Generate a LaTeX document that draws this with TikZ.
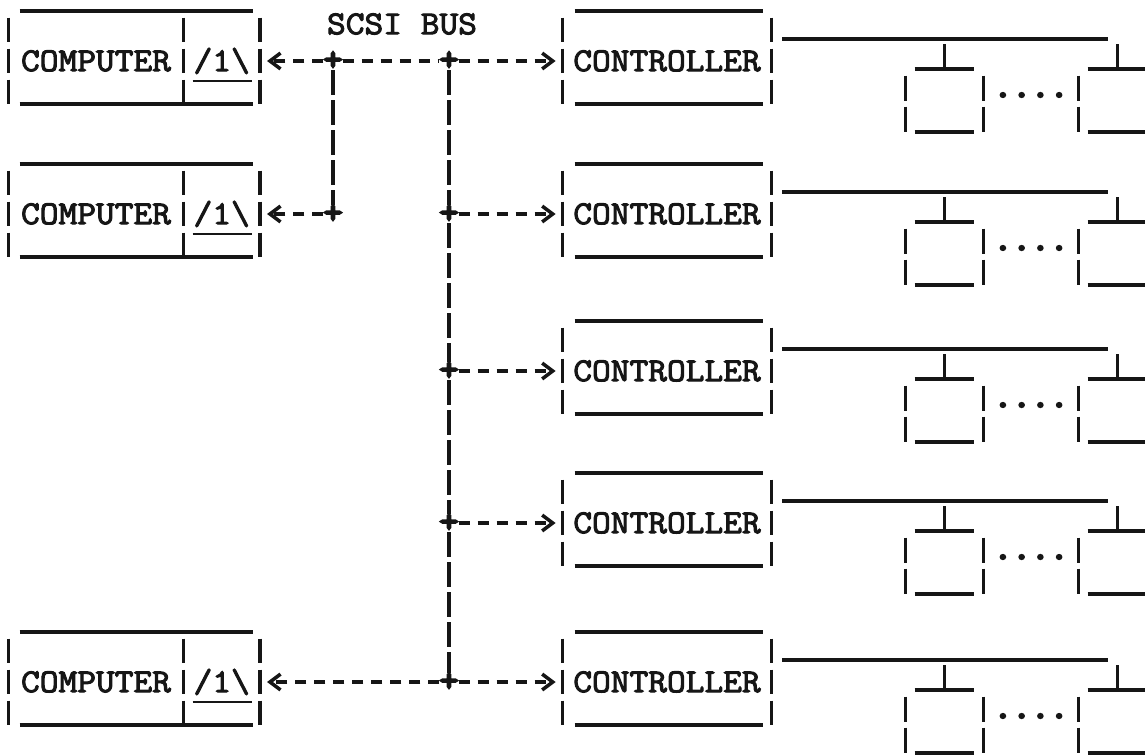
\documentclass[tikz,border=0pt]{standalone}
\usepackage{fontspec}
\usepackage{xcolor}
\usepackage{tikz}
\usetikzlibrary{arrows.meta, positioning, calc}
\newfontfamily\typewriter{Latin Modern Mono}[FakeBold=3, FakeStretch=1.09]
\newfontfamily\heavytype{Latin Modern Mono}[FakeBold=7, FakeStretch=1.09]
\definecolor{ink}{RGB}{22,22,22}
\tikzset{
  tw/.style={font=\typewriter\fontsize{19}{21}\selectfont, text=ink},
  box/.style={tw, rectangle, inner sep=0pt, minimum height=1.72cm,
    text height=11.5pt, text depth=0pt},
  compbox/.style={box, minimum width=3.48cm},
  portbox/.style={box, minimum width=1.52cm},
  ctlbox/.style={box, minimum width=4.16cm},
  diskbox/.style={rectangle, inner sep=0pt, minimum width=1.54cm, minimum height=1.12cm},
  rule/.style={line width=2.2pt, color=ink},
  bar/.style={line width=1.8pt, color=ink, dash pattern=on 0.48cm off 0.14cm},
  dbar/.style={line width=1.8pt, color=ink, dash pattern=on 0.5cm off 0.12cm},
  bus/.style={line width=2pt, color=ink, dash pattern=on 0.22cm off 0.16cm},
  vbus/.style={line width=1.8pt, color=ink, dash pattern=on 0.5cm off 0.1cm},
  arrow/.style={bus, -{Straight Barb[length=6pt, width=9pt]}, shorten >=4pt},
  plus/.style={font=\heavytype\fontsize{19}{21}\selectfont, text=ink, inner sep=0pt}
}

\begin{document}
\begin{tikzpicture}[x=0.02cm, y=-0.02cm]
  \useasboundingbox (0,0) rectangle (1145,754);

  % Computers
  \foreach \i/\y in {1/61, 2/214, 3/682} {
    \node[compbox] (comp\i) at (96,\y) {COMPUTER};
    \node[portbox, right=0pt of comp\i] (port\i) {/1\textbackslash};
    \draw[bar] (comp\i.north west) -- (comp\i.south west);
    \draw[bar] (comp\i.north east) -- (comp\i.south east);
    \draw[bar] (port\i.north east) -- (port\i.south east);
    \draw[rule] ($(comp\i.north west)+(11,-7)$) -- ($(port\i.north east)+(-7,-7)$);
    \draw[rule] ($(comp\i.south west)+(11,0)$) -- ($(port\i.south east)+(-7,0)$);
    \draw[rule, line width=1.6pt] ($(port\i.center)+(-29,20)$) -- ($(port\i.center)+(30,20)$);
  }

  % Controllers and drives
  \foreach \i/\y in {1/61, 2/214, 3/371, 4/523, 5/682} {
    \node[ctlbox] (ctl\i) at (667,\y) {CONTROLLER};
    \draw[bar] (ctl\i.north west) -- (ctl\i.south west);
    \draw[bar] (ctl\i.north east) -- (ctl\i.south east);
    \draw[rule] ($(ctl\i.north west)+(12,-7)$) -- ($(ctl\i.north east)+(-8,-7)$);
    \draw[rule] ($(ctl\i.south west)+(12,0)$) -- ($(ctl\i.south east)+(-8,0)$);
    \coordinate (dbus\i) at (1108,\y-22);
    \draw[rule] ($(ctl\i.east)+(11,-22)$) -- (dbus\i);
    \node[diskbox] (dska\i) at (944.5,\y+43) {};
    \node[diskbox] (dskb\i) at (1117.5,\y+43) {};
    \node[plus] (dots\i) at ($(dska\i)!0.5!(dskb\i)+(0,-9)$) {....};
    \foreach \d in {dska\i, dskb\i} {
      \draw[dbar] (\d.north west) -- (\d.south west);
      \draw[dbar] (\d.north east) -- (\d.south east);
      \draw[rule] ($(\d.north west)+(9,-7)$) -- ($(\d.north east)+(-9,-7)$);
      \draw[rule] ($(\d.south west)+(9,0)$) -- ($(\d.south east)+(-9,0)$);
      \draw[rule, line width=1.8pt] ($(\d.north)+(0,-7)$) -- ($(\d.north |- dbus\i)+(0,5)$);
    }
  }

  % Bus
  \node[tw] (scsi) at (402,24) {SCSI BUS};
  \node[plus] (j1) at (333,61) {+};
  \node[plus] (j2) at (449,61) {+};
  \node[plus] (j3) at (333,214) {+};
  \node[plus] (j4) at (449,214) {+};
  \node[plus] (j5) at (449,371) {+};
  \node[plus] (j6) at (449,523) {+};
  \node[plus] (j7) at (449,682) {+};

  % Paths
  \draw[arrow] (j1.west) -- (port1.east);
  \draw[bus] (j1.east) -- (j2.west);
  \draw[arrow] (j2.east) -- (ctl1.west);
  \draw[arrow] (j3.west) -- (port2.east);
  \draw[arrow] (j4.east) -- (ctl2.west);
  \draw[arrow] (j5.east) -- (ctl3.west);
  \draw[arrow] (j6.east) -- (ctl4.west);
  \draw[arrow] (j7.west) -- (port3.east);
  \draw[arrow] (j7.east) -- (ctl5.west);
  \draw[vbus] (j1.south) -- (j3.north);
  \draw[vbus] (j2.south) -- (j4.north) (j4.south) -- (j5.north)
    (j5.south) -- (j6.north) (j6.south) -- (j7.north);

\end{tikzpicture}
\end{document}
